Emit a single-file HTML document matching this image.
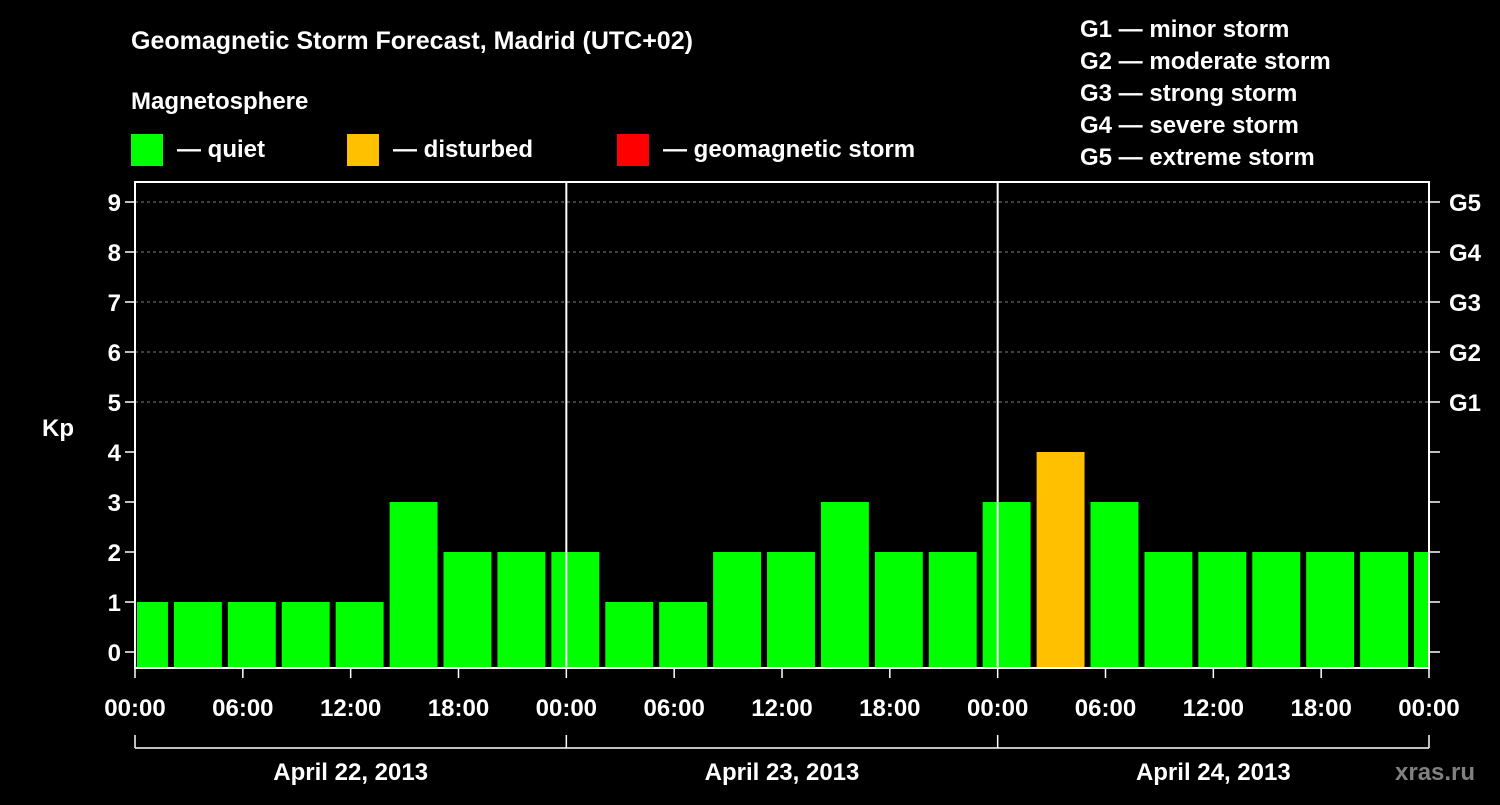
<!DOCTYPE html>
<html><head><meta charset="utf-8"><style>
body{margin:0;background:#000;}
svg text{font-family:"Liberation Sans",Arial,sans-serif;font-weight:bold;fill:#fff;}
</style></head><body>
<svg id="c" width="1500" height="800" xmlns="http://www.w3.org/2000/svg">
<rect width="1500" height="800" fill="#000"/>
<text x="131" y="49" font-size="25">Geomagnetic Storm Forecast, Madrid (UTC+02)</text>
<text x="131" y="109" font-size="24">Magnetosphere</text>
<g><rect x="131" y="134" width="32" height="32" fill="#00ff00"/><text x="177" y="157" font-size="24">— quiet</text></g>
<g><rect x="347" y="134" width="32" height="32" fill="#ffc000"/><text x="393" y="157" font-size="24">— disturbed</text></g>
<g><rect x="617" y="134" width="32" height="32" fill="#ff0000"/><text x="663" y="157" font-size="24">— geomagnetic storm</text></g>
<g font-size="24">
<text x="1080" y="37">G1 — minor storm</text>
<text x="1080" y="69">G2 — moderate storm</text>
<text x="1080" y="101">G3 — strong storm</text>
<text x="1080" y="133">G4 — severe storm</text>
<text x="1080" y="165">G5 — extreme storm</text>
</g>
<text x="42" y="436" font-size="24">Kp</text>
<text x="1395" y="780" font-size="24" style="fill:#808080">xras.ru</text>
<g id="plot"></g>
</svg>
<script>
const kpValues=[1,1,1,1,1,3,2,2,2,1,1,2,2,3,2,2,3,4,3,2,2,2,2,2,2];
const yTicks=[0,1,2,3,4,5,6,7,8,9];
const gLabels=["","","","","","G1","G2","G3","G4","G5"];
const xTickLabels=["00:00","06:00","12:00","18:00","00:00","06:00","12:00","18:00","00:00","06:00","12:00","18:00","00:00"];
const dayLabels=["April 22, 2013","April 23, 2013","April 24, 2013"];
const NS="http://www.w3.org/2000/svg";
const g=document.getElementById('plot');
const X0=135,X1=1429,T=72,PT=182,PB=668;
const x=h=>X0+(X1-X0)*h/T;
const y=k=>652-50*k;
function mk(t,a){const e=document.createElementNS(NS,t);for(const k in a)e.setAttribute(k,a[k]);g.appendChild(e);return e;}
// gridlines
yTicks.forEach(k=>{if(k>=5){const l=mk('line',{x1:X0,x2:X1,y1:y(k),y2:y(k),stroke:'#808080','stroke-dasharray':'3,3','stroke-width':1});

}});
// bars
const cp=document.createElementNS(NS,'clipPath');cp.setAttribute('id','clip');
const cr=document.createElementNS(NS,'rect');cr.setAttribute('x',X0+2);cr.setAttribute('y',PT);cr.setAttribute('width',X1-X0-3);cr.setAttribute('height',PB-PT);cp.appendChild(cr);g.appendChild(cp);
kpValues.forEach((v,i)=>{const c=x(i*3+0.5);const w=x(3)-x(0)-6;
const col=v>=5?'#ff0000':(v>=4?'#ffc000':'#00ff00');
const r=mk('rect',{x:c-w/2,y:y(v),width:w,height:PB-y(v),fill:col,'clip-path':'url(#clip)'});

});
// frame
const fr=mk('rect',{x:X0,y:PT,width:X1-X0,height:PB-PT,fill:'none',stroke:'#fff','stroke-width':2});


[24,48].forEach(h=>{const l=mk('line',{x1:x(h),x2:x(h),y1:PT,y2:PB,stroke:'#fff','stroke-width':2});

});
// y ticks
yTicks.forEach(k=>{mk('line',{x1:X0-10,x2:X0,y1:y(k),y2:y(k),stroke:'#fff','stroke-width':1.5});
mk('line',{x1:X1,x2:X1+11,y1:y(k),y2:y(k),stroke:'#fff','stroke-width':1.5});
const t=mk('text',{x:X0-14,y:y(k)+9,'text-anchor':'end','font-size':24});t.textContent=k;


if(gLabels[k]){const t2=mk('text',{x:X1+20,y:y(k)+9,'font-size':24});t2.textContent=gLabels[k];

}});
// x ticks
xTickLabels.forEach((s,i)=>{const xx=x(i*6);mk('line',{x1:xx,x2:xx,y1:PB,y2:PB+10,stroke:'#fff','stroke-width':1.5});
const t=mk('text',{x:xx,y:716,'text-anchor':'middle','font-size':24});t.textContent=s;

});
// day bracket
mk('line',{x1:X0,x2:X1,y1:748,y2:748,stroke:'#fff','stroke-width':1.5});
[0,24,48,72].forEach(h=>mk('line',{x1:x(h),x2:x(h),y1:735,y2:748,stroke:'#fff','stroke-width':1.5}));
dayLabels.forEach((s,i)=>{const t=mk('text',{x:x(i*24+12),y:780,'text-anchor':'middle','font-size':24});t.textContent=s;

});
</script>
</body></html>
